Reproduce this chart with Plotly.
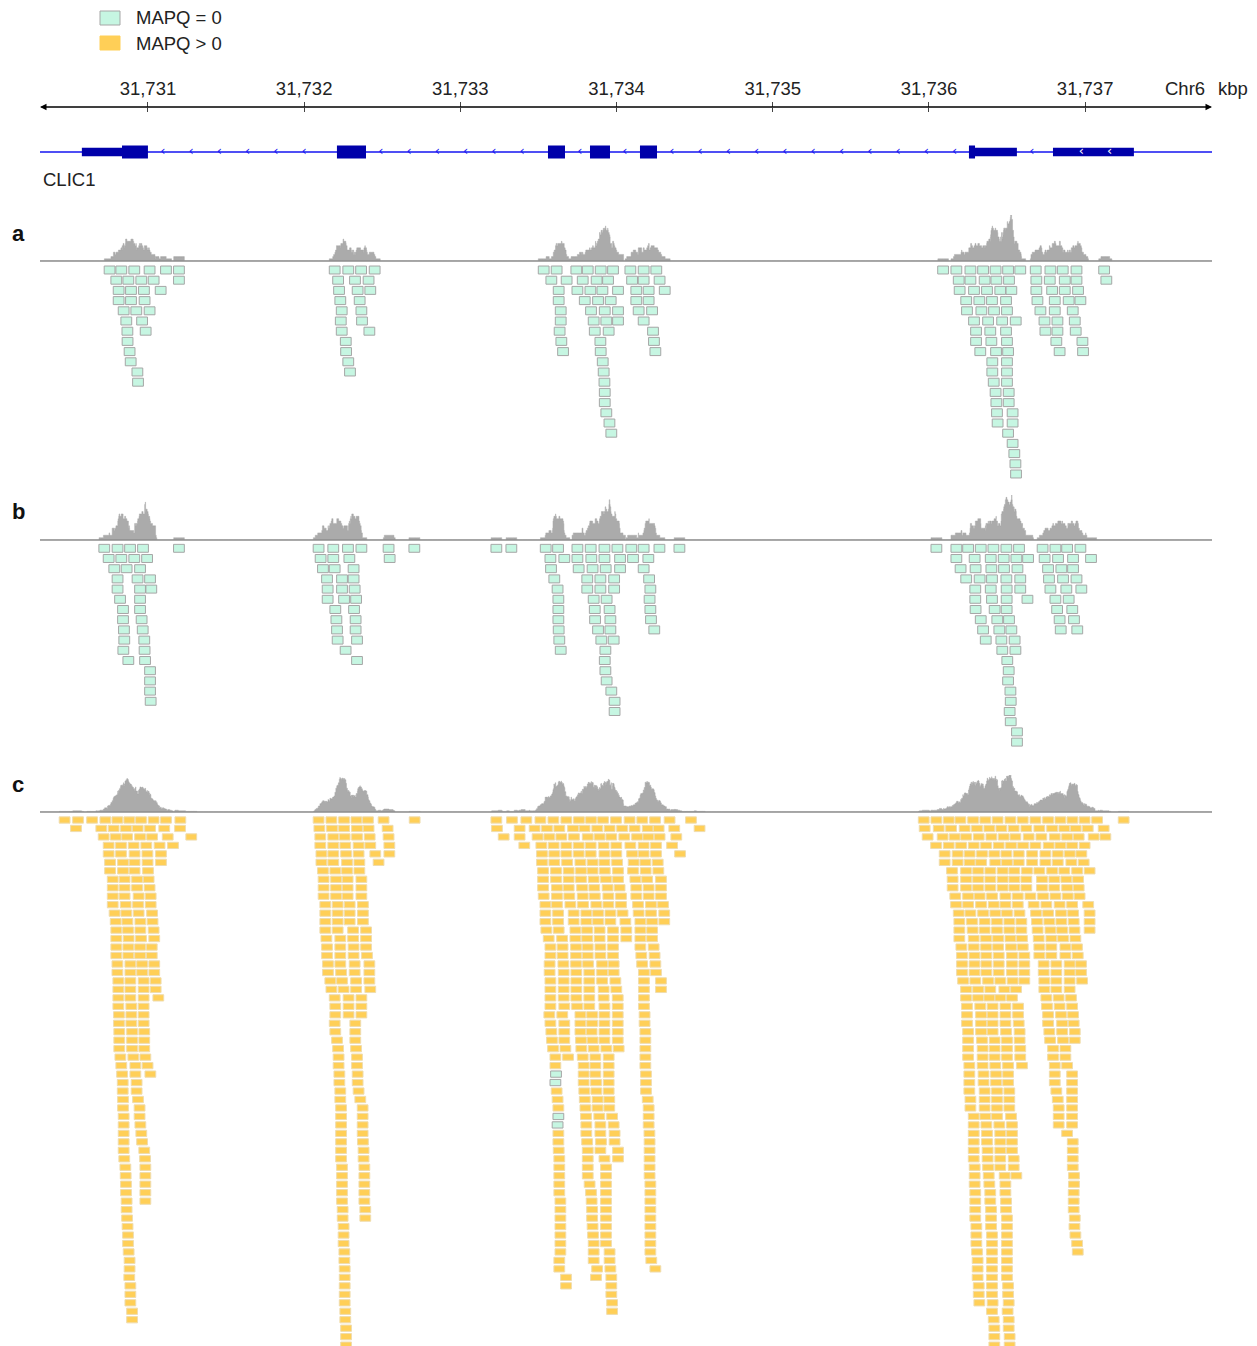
import numpy as np
import plotly.graph_objects as go

PAGE_W, PAGE_H = 1257, 1346
PAGE_OFF = 8                       # default body margin of the HTML page
W, H = PAGE_W - PAGE_OFF, PAGE_H - PAGE_OFF
FONT = "Liberation Sans, Arial, Helvetica, sans-serif"

# ---------------- data ----------------
BASE_KBP = 31730.0                      # read / exon offsets below are relative to this (kbp)
VIEW_KBP = (31730.309, 31737.812)
TICK_KBP = [31731, 31732, 31733, 31734, 31735, 31736, 31737]
TICK_LABELS = ["31,731", "31,732", "31,733", "31,734", "31,735", "31,736", "31,737"]
CHROM = "Chr6"
UNIT = "kbp"
GENE_NAME = "CLIC1"
CDS_KBP = [(0.834, 1.000), (2.210, 2.396), (3.561, 3.670), (3.830, 3.958), (4.150, 4.259), (6.256, 6.295)]
UTR_KBP = [(0.577, 0.834), (6.295, 6.563), (6.794, 7.312)]
READ_LEN_KBP = 0.069
LEGEND_LABELS = ["MAPQ = 0", "MAPQ > 0"]
PANELS = ["a", "b", "c"]

# track a (all MAPQ = 0): rows of read starts per exon cluster
A_C1 = [[0.720, 0.795, 0.878, 0.976, 1.081, 1.164], [0.763, 0.840, 0.923, 1.002, 1.164],
        [0.778, 0.857, 0.940, 1.047], [0.778, 0.857, 0.944], [0.810, 0.891, 0.976],
        [0.827, 0.928], [0.834, 0.951], [0.835], [0.848], [0.855], [0.898], [0.902]]
A_C2 = [[2.161, 2.248, 2.330, 2.417], [2.183, 2.291, 2.378], [2.189, 2.308, 2.389],
        [2.197, 2.321], [2.206, 2.332], [2.200, 2.336], [2.206, 2.383], [2.232], [2.234],
        [2.248], [2.259]]
A_C3 = [[3.499, 3.582, 3.708, 3.781, 3.864, 3.943, 4.054, 4.139, 4.220],
        [3.548, 3.646, 3.749, 3.838, 3.911, 4.065, 4.139, 4.241],
        [3.595, 3.715, 3.798, 3.875, 3.975, 4.092, 4.171, 4.274],
        [3.595, 3.762, 3.847, 3.928, 4.092, 4.171], [3.608, 3.802, 3.890, 3.975, 4.107, 4.193],
        [3.608, 3.819, 3.900, 3.975, 4.139], [3.601, 3.826, 3.915, 4.199], [3.612, 3.862, 4.205],
        [3.623, 3.864, 4.214], [3.877], [3.883], [3.888], [3.890], [3.890], [3.900], [3.920], [3.932]]
A_C4 = [[6.056, 6.141, 6.231, 6.312, 6.392, 6.472, 6.550, 6.649, 6.743, 6.822, 6.910, 7.087],
        [6.156, 6.231, 6.322, 6.397, 6.478, 6.653, 6.739, 6.835, 6.910, 7.101],
        [6.162, 6.254, 6.337, 6.422, 6.493, 6.653, 6.754, 6.835, 6.920],
        [6.204, 6.288, 6.369, 6.459, 6.660, 6.771, 6.860, 6.935],
        [6.209, 6.301, 6.382, 6.465, 6.679, 6.771, 6.886],
        [6.254, 6.344, 6.434, 6.521, 6.705, 6.788, 6.899],
        [6.267, 6.358, 6.459, 6.711, 6.788, 6.905], [6.267, 6.365, 6.465, 6.781, 6.948],
        [6.294, 6.395, 6.472, 6.802, 6.952], [6.371, 6.465], [6.371, 6.465], [6.380, 6.465],
        [6.392, 6.476], [6.397, 6.476], [6.401, 6.501], [6.405, 6.501], [6.472], [6.501],
        [6.512], [6.519], [6.523]]

# track b (all MAPQ = 0)
B_C1 = [[0.686, 0.771, 0.851, 0.934, 1.164], [0.714, 0.795, 0.878, 0.960], [0.750, 0.829, 0.915],
        [0.771, 0.899, 0.979], [0.771, 0.915, 0.987], [0.787, 0.915], [0.806, 0.915],
        [0.806, 0.925], [0.812, 0.932], [0.814, 0.942], [0.808, 0.944], [0.840, 0.947],
        [0.979], [0.979], [0.979], [0.983]]
B_C2 = [[2.058, 2.152, 2.246, 2.332, 2.506, 2.671], [2.071, 2.152, 2.255, 2.513],
        [2.086, 2.161, 2.282], [2.112, 2.208, 2.282], [2.116, 2.208, 2.289], [2.116, 2.221, 2.298],
        [2.165, 2.285], [2.172, 2.295], [2.176, 2.295], [2.180, 2.304], [2.231], [2.304]]
B_C3 = [[3.196, 3.292, 3.512, 3.591, 3.715, 3.800, 3.888, 3.971, 4.060, 4.139, 4.240, 4.368],
        [3.542, 3.631, 3.715, 3.804, 3.888, 3.988, 4.071, 4.169],
        [3.546, 3.723, 3.812, 3.896, 3.988, 4.139], [3.567, 3.778, 3.862, 3.950, 4.174],
        [3.588, 3.778, 3.862, 3.950, 4.182], [3.593, 3.819, 3.902, 4.177],
        [3.593, 3.826, 3.921, 4.182], [3.593, 3.828, 3.926, 4.186], [3.595, 3.847, 3.926, 4.207],
        [3.599, 3.868, 3.947], [3.608, 3.894], [3.890], [3.894], [3.902], [3.932], [3.953], [3.953]]
B_C4 = [[6.013, 6.141, 6.216, 6.297, 6.378, 6.461, 6.542, 6.693, 6.775, 6.850, 6.935],
        [6.141, 6.258, 6.361, 6.444, 6.525, 6.600, 6.706, 6.792, 6.888, 7.003],
        [6.168, 6.264, 6.365, 6.446, 6.532, 6.728, 6.813, 6.888],
        [6.204, 6.290, 6.369, 6.461, 6.550, 6.734, 6.824, 6.910],
        [6.262, 6.361, 6.463, 6.550, 6.743, 6.845, 6.941],
        [6.262, 6.369, 6.463, 6.596, 6.775, 6.860], [6.264, 6.386, 6.463, 6.786, 6.883],
        [6.297, 6.403, 6.478, 6.802, 6.894], [6.312, 6.416, 6.493, 6.809, 6.915],
        [6.329, 6.429, 6.514], [6.435, 6.519], [6.467], [6.476], [6.472], [6.487], [6.489],
        [6.482], [6.489], [6.529], [6.529]]

# track c (MAPQ > 0 reads; a few MAPQ = 0 listed separately as (row, start))
C_C1 = [[0.432, 0.518, 0.608, 0.693, 0.770, 0.846, 0.921, 1.002, 1.081, 1.173],
        [0.505, 0.667, 0.746, 0.825, 0.900, 0.979, 1.070, 1.171],
        [0.682, 0.759, 0.832, 0.915, 0.992, 1.092, 1.243],
        [0.714, 0.793, 0.874, 0.955, 1.040, 1.126], [0.714, 0.793, 0.880, 0.962, 1.049],
        [0.723, 0.806, 0.880, 0.963, 1.049], [0.723, 0.806, 0.880, 0.966],
        [0.740, 0.816, 0.896, 0.970], [0.740, 0.816, 0.896, 0.976], [0.740, 0.816, 0.906, 0.983],
        [0.740, 0.823, 0.902, 0.983], [0.752, 0.827, 0.906, 0.992], [0.759, 0.834, 0.917, 0.995],
        [0.763, 0.838, 0.917, 1.002], [0.763, 0.842, 0.921, 1.006], [0.763, 0.840, 0.915, 0.990],
        [0.763, 0.840, 0.915, 0.990], [0.770, 0.853, 0.928, 1.006], [0.770, 0.853, 0.928, 1.006],
        [0.776, 0.853, 0.938, 1.015], [0.776, 0.853, 0.938, 1.015], [0.776, 0.853, 0.938, 1.032],
        [0.776, 0.859, 0.938], [0.780, 0.859, 0.938], [0.780, 0.859, 0.938], [0.782, 0.864, 0.942],
        [0.782, 0.864, 0.942], [0.782, 0.864, 0.942], [0.789, 0.872, 0.949], [0.795, 0.885, 0.963],
        [0.800, 0.885, 0.981], [0.804, 0.893], [0.804, 0.893], [0.806, 0.902], [0.806, 0.912],
        [0.810, 0.912], [0.810, 0.917], [0.810, 0.923], [0.810, 0.928], [0.810, 0.942],
        [0.814, 0.947], [0.821, 0.949], [0.823, 0.949], [0.825, 0.949], [0.825, 0.949],
        [0.829, 0.949], [0.829], [0.832], [0.835], [0.838], [0.838], [0.842], [0.848], [0.848],
        [0.846], [0.853], [0.853], [0.853], [0.864], [0.864]]
C_C2 = [[2.058, 2.140, 2.221, 2.300, 2.374, 2.474, 2.673], [2.063, 2.144, 2.221, 2.304, 2.378, 2.500],
        [2.069, 2.152, 2.225, 2.304, 2.385, 2.506], [2.069, 2.152, 2.229, 2.314, 2.389, 2.511],
        [2.076, 2.152, 2.234, 2.314, 2.421, 2.511], [2.076, 2.152, 2.240, 2.319, 2.442],
        [2.086, 2.165, 2.240, 2.319], [2.090, 2.170, 2.244, 2.332], [2.090, 2.170, 2.244, 2.332],
        [2.090, 2.170, 2.244, 2.332], [2.101, 2.180, 2.257, 2.342], [2.101, 2.180, 2.257, 2.342],
        [2.101, 2.180, 2.257, 2.342], [2.101, 2.180, 2.279, 2.362], [2.108, 2.197, 2.279, 2.362],
        [2.112, 2.197, 2.282, 2.362], [2.112, 2.197, 2.282, 2.368], [2.118, 2.197, 2.289, 2.383],
        [2.118, 2.202, 2.289, 2.383], [2.133, 2.208, 2.298, 2.383], [2.140, 2.218, 2.298, 2.389],
        [2.161, 2.250, 2.332], [2.165, 2.250, 2.332], [2.165, 2.250, 2.332], [2.161, 2.293],
        [2.165, 2.293], [2.176, 2.293], [2.183, 2.298], [2.186, 2.304], [2.186, 2.304],
        [2.191, 2.308], [2.191, 2.308], [2.197, 2.314], [2.197, 2.325], [2.202, 2.340],
        [2.202, 2.340], [2.202, 2.340], [2.202, 2.340], [2.202, 2.342], [2.202, 2.346],
        [2.202, 2.346], [2.208, 2.351], [2.208, 2.351], [2.208, 2.351], [2.208, 2.351],
        [2.208, 2.351], [2.212, 2.357], [2.212, 2.357], [2.218], [2.218], [2.218], [2.223],
        [2.223], [2.225], [2.225], [2.225], [2.225], [2.225], [2.229], [2.229], [2.234],
        [2.234], [2.234]]
C_C3 = [[3.196, 3.296, 3.388, 3.478, 3.561, 3.644, 3.725, 3.802, 3.879, 3.962, 4.049, 4.130, 4.212, 4.305, 4.442],
        [3.200, 3.345, 3.441, 3.520, 3.599, 3.687, 3.761, 3.842, 3.921, 4.001, 4.081, 4.165, 4.235, 4.335, 4.497],
        [3.243, 3.345, 3.460, 3.535, 3.612, 3.693, 3.781, 3.857, 3.932, 4.015, 4.097, 4.169, 4.241, 4.348],
        [3.375, 3.484, 3.563, 3.644, 3.723, 3.800, 3.883, 3.964, 4.054, 4.139, 4.218, 4.321],
        [3.488, 3.567, 3.644, 3.723, 3.800, 3.888, 3.964, 4.065, 4.139, 4.218, 4.372],
        [3.488, 3.567, 3.649, 3.734, 3.812, 3.888, 3.969, 4.075, 4.150, 4.229],
        [3.495, 3.578, 3.659, 3.738, 3.812, 3.890, 3.975, 4.071, 4.152, 4.233],
        [3.495, 3.578, 3.659, 3.738, 3.819, 3.898, 3.975, 4.086, 4.161, 4.250],
        [3.495, 3.584, 3.659, 3.745, 3.823, 3.908, 3.985, 4.092, 4.171, 4.250],
        [3.499, 3.584, 3.663, 3.749, 3.826, 3.913, 3.994, 4.092, 4.171, 4.250],
        [3.510, 3.584, 3.670, 3.751, 3.836, 3.913, 3.994, 4.103, 4.186, 4.263],
        [3.510, 3.591, 3.691, 3.772, 3.847, 3.926, 4.004, 4.107, 4.186, 4.271],
        [3.510, 3.591, 3.691, 3.772, 3.847, 3.926, 4.022, 4.118, 4.193, 4.271],
        [3.516, 3.595, 3.702, 3.777, 3.857, 3.943, 4.028, 4.118, 4.193],
        [3.531, 3.617, 3.702, 3.777, 3.857, 3.943, 4.028, 4.118, 4.193],
        [3.542, 3.620, 3.706, 3.781, 3.862, 3.943, 4.118, 4.203],
        [3.542, 3.620, 3.706, 3.781, 3.862, 3.943, 4.124, 4.209],
        [3.537, 3.625, 3.706, 3.783, 3.873, 3.947, 4.129, 4.214],
        [3.537, 3.627, 3.708, 3.791, 3.873, 3.947, 4.141, 4.218],
        [3.542, 3.627, 3.708, 3.791, 3.873, 3.958, 4.141, 4.250],
        [3.542, 3.627, 3.708, 3.791, 3.883, 3.964, 4.141, 4.250],
        [3.542, 3.627, 3.708, 3.791, 3.883, 3.973, 4.141],
        [3.542, 3.631, 3.713, 3.791, 3.888, 3.973, 4.141],
        [3.535, 3.618, 3.734, 3.809, 3.888, 3.973, 4.145],
        [3.542, 3.631, 3.734, 3.809, 3.888, 3.973, 4.145],
        [3.548, 3.631, 3.734, 3.806, 3.888, 3.973, 4.150],
        [3.552, 3.631, 3.738, 3.812, 3.888, 3.973, 4.150],
        [3.559, 3.638, 3.740, 3.819, 3.900, 3.979, 4.150],
        [3.574, 3.655, 3.749, 3.830, 3.915, 4.150], [3.574, 3.755, 3.830, 3.915, 4.150],
        [3.755, 3.830, 3.915, 4.154], [3.755, 3.834, 3.915, 4.154],
        [3.582, 3.759, 3.836, 3.915, 4.154], [3.588, 3.762, 3.844, 3.919, 4.165],
        [3.593, 3.766, 3.844, 3.919, 4.171], [3.770, 3.855, 3.937, 4.171],
        [3.772, 3.862, 3.947, 4.171], [3.593, 3.772, 3.862, 3.953, 4.176],
        [3.593, 3.777, 3.866, 3.953, 4.177], [3.595, 3.781, 3.862, 3.975, 4.177],
        [3.599, 3.781, 3.888, 3.975, 4.177], [3.599, 3.781, 3.898, 4.177],
        [3.599, 3.781, 3.898, 4.177], [3.599, 3.793, 3.898, 4.182], [3.599, 3.802, 3.898, 4.182],
        [3.606, 3.806, 3.898, 4.182], [3.606, 3.809, 3.898, 4.182], [3.606, 3.809, 3.898, 4.182],
        [3.606, 3.812, 3.898, 4.182], [3.606, 3.815, 3.898, 4.182], [3.606, 3.819, 3.898, 4.182],
        [3.606, 3.819, 3.921, 4.182], [3.599, 3.819, 3.921, 4.188], [3.599, 3.841, 3.926, 4.214],
        [3.642, 3.834, 3.932], [3.642, 3.932], [3.932], [3.937], [3.937]]
C_C4 = [[5.932, 6.013, 6.092, 6.167, 6.248, 6.326, 6.405, 6.487, 6.566, 6.647, 6.728, 6.807, 6.884, 6.962, 7.042, 7.212],
        [5.938, 6.028, 6.107, 6.194, 6.273, 6.352, 6.429, 6.508, 6.589, 6.672, 6.754, 6.832, 6.905, 6.982, 7.084],
        [5.957, 6.053, 6.130, 6.203, 6.284, 6.365, 6.444, 6.519, 6.604, 6.685, 6.771, 6.850, 6.924, 7.020, 7.095],
        [6.011, 6.092, 6.171, 6.252, 6.331, 6.412, 6.491, 6.568, 6.647, 6.732, 6.807, 6.882, 6.962],
        [6.066, 6.149, 6.226, 6.305, 6.384, 6.461, 6.540, 6.626, 6.711, 6.790, 6.867, 6.941],
        [6.066, 6.149, 6.226, 6.299, 6.390, 6.465, 6.540, 6.626, 6.711, 6.790, 6.877, 6.956],
        [6.113, 6.203, 6.280, 6.358, 6.437, 6.512, 6.593, 6.672, 6.754, 6.832, 6.914, 6.994],
        [6.117, 6.203, 6.280, 6.358, 6.437, 6.512, 6.589, 6.689, 6.768, 6.845, 6.920],
        [6.117, 6.203, 6.280, 6.358, 6.437, 6.512, 6.589, 6.689, 6.768, 6.850, 6.924],
        [6.134, 6.216, 6.290, 6.369, 6.455, 6.534, 6.615, 6.696, 6.775, 6.854, 6.930],
        [6.139, 6.216, 6.299, 6.380, 6.455, 6.534, 6.636, 6.717, 6.802, 6.882, 6.985],
        [6.156, 6.231, 6.312, 6.390, 6.465, 6.545, 6.651, 6.728, 6.811, 6.888, 6.994],
        [6.160, 6.241, 6.322, 6.401, 6.480, 6.557, 6.657, 6.736, 6.813, 6.892, 6.994],
        [6.160, 6.245, 6.322, 6.401, 6.480, 6.557, 6.661, 6.743, 6.818, 6.897, 6.994],
        [6.160, 6.252, 6.331, 6.408, 6.487, 6.561, 6.668, 6.749, 6.824, 6.903],
        [6.173, 6.252, 6.331, 6.408, 6.491, 6.566, 6.672, 6.749, 6.839, 6.913],
        [6.177, 6.257, 6.333, 6.412, 6.497, 6.576, 6.672, 6.749, 6.839, 6.918],
        [6.177, 6.257, 6.333, 6.412, 6.497, 6.576, 6.700, 6.781, 6.866, 6.939],
        [6.177, 6.257, 6.333, 6.412, 6.497, 6.576, 6.700, 6.781, 6.866, 6.939],
        [6.184, 6.262, 6.344, 6.422, 6.501, 6.576, 6.704, 6.781, 6.866, 6.946],
        [6.203, 6.280, 6.358, 6.448, 6.523, 6.704, 6.781, 6.866],
        [6.203, 6.280, 6.352, 6.422, 6.497, 6.717, 6.796, 6.875],
        [6.209, 6.294, 6.373, 6.455, 6.536, 6.721, 6.802, 6.882],
        [6.209, 6.299, 6.373, 6.455, 6.536, 6.728, 6.811, 6.888],
        [6.209, 6.299, 6.373, 6.455, 6.540, 6.728, 6.818, 6.892],
        [6.216, 6.299, 6.373, 6.459, 6.546, 6.736, 6.818, 6.899],
        [6.216, 6.305, 6.386, 6.465, 6.546, 6.741, 6.824, 6.899],
        [6.216, 6.309, 6.386, 6.465, 6.550, 6.760, 6.839],
        [6.216, 6.309, 6.386, 6.465, 6.550, 6.760, 6.839],
        [6.224, 6.309, 6.390, 6.472, 6.561, 6.771, 6.850],
        [6.224, 6.315, 6.395, 6.472, 6.771, 6.882], [6.224, 6.315, 6.395, 6.472, 6.771, 6.882],
        [6.224, 6.322, 6.401, 6.480, 6.781, 6.882], [6.231, 6.322, 6.401, 6.480, 6.790, 6.882],
        [6.231, 6.322, 6.401, 6.480, 6.796, 6.882], [6.252, 6.326, 6.401, 6.491, 6.796, 6.882],
        [6.252, 6.333, 6.416, 6.497, 6.796, 6.882], [6.252, 6.337, 6.422, 6.497, 6.850],
        [6.252, 6.337, 6.422, 6.497, 6.886], [6.252, 6.341, 6.422, 6.497, 6.886],
        [6.252, 6.341, 6.422, 6.508, 6.886], [6.258, 6.344, 6.422, 6.508, 6.886],
        [6.258, 6.348, 6.450, 6.525, 6.894], [6.258, 6.352, 6.455, 6.894],
        [6.262, 6.358, 6.455, 6.892], [6.262, 6.358, 6.459, 6.892], [6.262, 6.363, 6.459, 6.892],
        [6.262, 6.363, 6.465, 6.899], [6.269, 6.363, 6.465, 6.897], [6.269, 6.369, 6.465, 6.903],
        [6.269, 6.369, 6.465, 6.914], [6.273, 6.369, 6.465, 6.918], [6.277, 6.369, 6.465],
        [6.277, 6.369, 6.465], [6.277, 6.369, 6.465], [6.284, 6.369, 6.472], [6.284, 6.369, 6.472],
        [6.288, 6.373, 6.476], [6.369, 6.469], [6.380, 6.476], [6.384, 6.476], [6.384, 6.482],
        [6.384, 6.482]]
C_MAPQ0 = [(30, 3.578), (31, 3.574), (35, 3.593), (36, 3.588)]

# ---------------- style / layout constants (page pixels) ----------------
MINT, MINT_EDGE = "#c6f6e2", "#a6a6a6"
GOLD, GOLD_EDGE = "#ffcf57", "#efdcae"
COV_COLOR = "#ababab"
BASE_LINE = "#8c8c8c"
EXON_COLOR, INTRON_COLOR = "#0000aa", "#1414f0"
TEXT = "#222222"
PLOT_L, PLOT_R = 40, 1212
AXIS_Y, GENE_Y = 107, 152
TRACK_GEOM = {
    "a": dict(base=261, cov_h=46, row0=270.0, pitch=10.2, half=0.39, nrows=21),
    "b": dict(base=540, cov_h=45, row0=548.3, pitch=10.2, half=0.39, nrows=20),
    "c": dict(base=812, cov_h=37, row0=820.0, pitch=8.47, half=0.37, nrows=None),
}


def fy(px):
    """page y pixel -> paper fraction"""
    return 1 - (px - PAGE_OFF) / H


def fx(px):
    """page x pixel -> paper fraction"""
    return (px - PAGE_OFF) / W


def read_polys(items, half):
    xs, ys = [], []
    for row, s in items:
        x0 = BASE_KBP + s
        x1 = x0 + READ_LEN_KBP
        xs += [x0, x1, x1, x0, x0, None]
        ys += [row - half, row - half, row + half, row + half, row - half, None]
    return xs, ys


def flatten(clusters):
    return [(i, s) for rows in clusters for i, row in enumerate(rows) for s in row]


def coverage(items):
    grid = np.arange(VIEW_KBP[0], VIEW_KBP[1], 0.002)
    cov = np.zeros_like(grid)
    for _, s in items:
        cov += (grid >= BASE_KBP + s) & (grid < BASE_KBP + s + READ_LEN_KBP)
    return grid, cov


tracks = {
    "a": {"mapq0": flatten([A_C1, A_C2, A_C3, A_C4]), "mapq": []},
    "b": {"mapq0": flatten([B_C1, B_C2, B_C3, B_C4]), "mapq": []},
    "c": {"mapq0": list(C_MAPQ0), "mapq": flatten([C_C1, C_C2, C_C3, C_C4])},
}

fig = go.Figure()
layout_axes = {}
shapes = []
annotations = []

# ---------------- gene track (yaxis 'y') ----------------
layout_axes["yaxis"] = dict(domain=[fy(GENE_Y + 15), fy(GENE_Y - 15)], range=[-1.5, 1.5],
                            visible=False, fixedrange=True)
fig.add_trace(go.Scatter(x=list(VIEW_KBP), y=[0, 0], mode="lines", xaxis="x", yaxis="y",
                         line=dict(color=INTRON_COLOR, width=1.3), hoverinfo="skip", showlegend=False))
ex_x, ex_y = [], []
for blocks, hh in ((UTR_KBP, 0.42), (CDS_KBP, 0.65)):
    for s, e in blocks:
        ex_x += [BASE_KBP + s, BASE_KBP + e, BASE_KBP + e, BASE_KBP + s, BASE_KBP + s, None]
        ex_y += [-hh, -hh, hh, hh, -hh, None]
fig.add_trace(go.Scatter(x=ex_x, y=ex_y, mode="lines", fill="toself", fillcolor=EXON_COLOR,
                         line=dict(color=EXON_COLOR, width=0), xaxis="x", yaxis="y",
                         hoverinfo="skip", showlegend=False))
# strand chevrons (minus strand) along introns, white inside the long UTR block
blocks = sorted(CDS_KBP + UTR_KBP)
chev_blue, chev_white = [], []
for (s0, e0), (s1, e1) in zip(blocks[:-1], blocks[1:]):
    if s1 - e0 > 0.05:
        p = e0 + 0.095
        while p < s1 - 0.03:
            chev_blue.append(BASE_KBP + p)
            p += 0.181
for s, e in UTR_KBP:
    if e - s > 0.4:
        p = s + 0.181
        while p < e - 0.1:
            chev_white.append(BASE_KBP + p)
            p += 0.181
for xs_, col in ((chev_blue, INTRON_COLOR), (chev_white, "#ffffff")):
    fig.add_trace(go.Scatter(x=xs_, y=[0.05] * len(xs_), mode="text", text=["\u2039"] * len(xs_),
                             textfont=dict(size=13, color=col, family="DejaVu Sans"),
                             xaxis="x", yaxis="y", hoverinfo="skip", showlegend=False))

# ---------------- read tracks ----------------
axis_id = 2
for key in PANELS:
    g = TRACK_GEOM[key]
    data = tracks[key]
    all_items = data["mapq0"] + data["mapq"]
    grid, cov = coverage(all_items)
    cov_ax, read_ax = axis_id, axis_id + 1
    axis_id += 2
    layout_axes[f"yaxis{cov_ax}"] = dict(domain=[fy(g["base"]), fy(g["base"] - g["cov_h"])],
                                         range=[0, float(cov.max())], visible=False, fixedrange=True)
    top = g["row0"] - g["pitch"] / 2
    bottom = PAGE_H if g["nrows"] is None else min(PAGE_H, top + g["nrows"] * g["pitch"])
    nvis = (bottom - top) / g["pitch"]
    layout_axes[f"yaxis{read_ax}"] = dict(domain=[fy(bottom), fy(top)], range=[nvis - 0.5, -0.5],
                                          visible=False, fixedrange=True)
    fig.add_trace(go.Scatter(x=grid, y=cov, mode="lines", line_shape="hv", fill="tozeroy",
                             fillcolor=COV_COLOR, line=dict(color=COV_COLOR, width=0.5),
                             xaxis="x", yaxis=f"y{cov_ax}", hoverinfo="skip", showlegend=False))
    for items, fc, lc in ((data["mapq"], GOLD, GOLD_EDGE), (data["mapq0"], MINT, MINT_EDGE)):
        if not items:
            continue
        xs, ys = read_polys(items, g["half"])
        fig.add_trace(go.Scatter(x=xs, y=ys, mode="lines", fill="toself", fillcolor=fc,
                                 line=dict(color=lc, width=1), xaxis="x", yaxis=f"y{read_ax}",
                                 hoverinfo="skip", showlegend=False))
    shapes.append(dict(type="line", xref="paper", yref="paper", x0=fx(PLOT_L), x1=fx(PLOT_R),
                       y0=fy(g["base"]), y1=fy(g["base"]), line=dict(color=BASE_LINE, width=1.5),
                       layer="above"))
    annotations.append(dict(text=f"<b>{key}</b>", x=fx(18), y=fy(g["base"] - 28), xref="paper",
                            yref="paper", showarrow=False, xanchor="center", yanchor="middle",
                            font=dict(size=22, color="#111", family=FONT)))

# dummy trace for the lower tick axis
fig.add_trace(go.Scatter(x=[None], y=[None], xaxis="x2", yaxis="y", showlegend=False, hoverinfo="skip"))

# ---------------- ruler (two full-length arrows, each tail at the opposite end) ----------------
for head, tail in ((VIEW_KBP[0], VIEW_KBP[1]), (VIEW_KBP[1], VIEW_KBP[0])):
    annotations.append(dict(x=head, y=fy(AXIS_Y), xref="x", yref="paper", ax=tail, axref="x",
                            ay=0, ayref="pixel", text="", showarrow=True, arrowhead=2, arrowsize=1.3,
                            arrowwidth=1, arrowcolor="#000000", standoff=0, startstandoff=0))
for txt, xp in ((CHROM, 1163), (UNIT, 1216)):
    annotations.append(dict(text=txt, x=fx(xp), y=fy(89), xref="paper", yref="paper", showarrow=False,
                            xanchor="left", yanchor="middle", font=dict(size=18.5, color=TEXT, family=FONT)))
annotations.append(dict(text=GENE_NAME, x=fx(41), y=fy(179), xref="paper", yref="paper", showarrow=False,
                        xanchor="left", yanchor="middle", font=dict(size=18.5, color=TEXT, family=FONT)))

# ---------------- legend (manual) ----------------
for (label, fc, lc, yc) in ((LEGEND_LABELS[0], MINT, MINT_EDGE, 18), (LEGEND_LABELS[1], GOLD, GOLD, 43)):
    shapes.append(dict(type="rect", xref="paper", yref="paper", x0=fx(100), x1=fx(120),
                       y0=fy(yc + 7), y1=fy(yc - 7), fillcolor=fc, line=dict(color=lc, width=1)))
    annotations.append(dict(text=label, x=fx(134), y=fy(yc), xref="paper", yref="paper", showarrow=False,
                            xanchor="left", yanchor="middle", font=dict(size=18.5, color=TEXT, family=FONT)))

fig.update_layout(
    width=W, height=H, margin=dict(l=0, r=0, t=0, b=0),
    paper_bgcolor="white", plot_bgcolor="white", showlegend=False,
    font=dict(family=FONT, color=TEXT),
    xaxis=dict(domain=[fx(PLOT_L), fx(PLOT_R)], range=list(VIEW_KBP), anchor="free",
               position=fy(AXIS_Y), side="top", showline=False, showgrid=False, zeroline=False,
               ticks="outside", ticklen=5, tickwidth=1, tickcolor="#444", tickvals=TICK_KBP,
               ticktext=TICK_LABELS, tickfont=dict(size=18.5, color=TEXT, family=FONT), fixedrange=True),
    xaxis2=dict(domain=[fx(PLOT_L), fx(PLOT_R)], range=list(VIEW_KBP), anchor="free", overlaying="x",
                position=fy(AXIS_Y), side="bottom", showline=False, showgrid=False, zeroline=False,
                ticks="outside", ticklen=4, tickwidth=1, tickcolor="#444", tickvals=TICK_KBP,
                showticklabels=False, fixedrange=True),
    shapes=shapes, annotations=annotations,
    **layout_axes,
)

fig.write_html("out.html")
